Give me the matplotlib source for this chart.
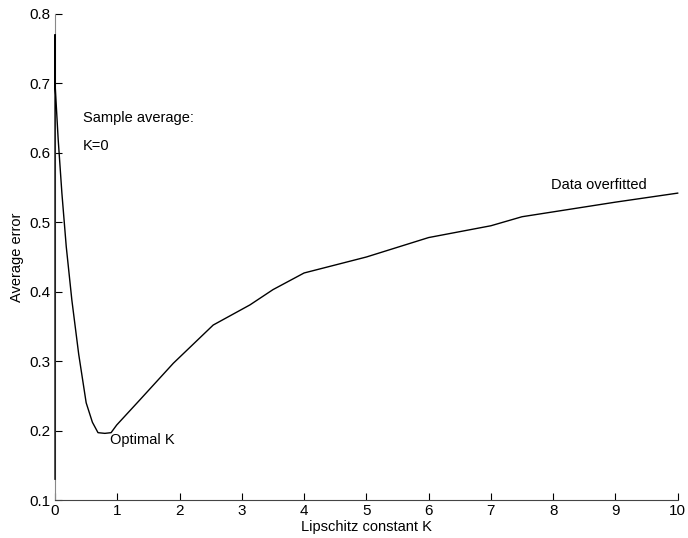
import numpy as np
import matplotlib
matplotlib.use('Agg')
import matplotlib.pyplot as plt

plt.rcParams['font.family'] = ['Liberation Sans', 'DejaVu Sans']

# curve (first two points: the vertical stroke at K=0)
K = [0, 0, 0, 0.05, 0.11, 0.18, 0.27, 0.38, 0.50, 0.60, 0.69, 0.80, 0.90, 0.99,
     1.36, 1.90, 2.54, 3.13, 3.5, 4.0, 5.0, 6.0, 7.0, 7.5, 8.0, 9.0, 10.0]
err = [0.13, 0.77, 0.70, 0.62, 0.542, 0.465, 0.388, 0.31, 0.240, 0.212, 0.197, 0.196, 0.197, 0.208,
       0.244, 0.297, 0.352, 0.381, 0.403, 0.427, 0.45, 0.478, 0.495, 0.508, 0.515, 0.529, 0.542]

xticks = np.arange(0, 11, 1)
yticks = [0.1, 0.2, 0.3, 0.4, 0.5, 0.6, 0.7, 0.8]

fig = plt.figure(figsize=(6.88, 5.38), dpi=100)
ax = fig.add_axes([0.080, 0.0706, 0.905, 0.9034])
ax.plot(K, err, color='black', lw=1.0, zorder=3, clip_on=False)

ax.set_xlim(0, 10)
ax.set_ylim(0.1, 0.8)
ax.set_xticks(xticks)
ax.set_yticks(yticks)
ax.set_xticklabels([str(v) for v in xticks])
ax.set_yticklabels([f'{v:.1f}' for v in yticks])
ax.tick_params(direction='in', length=5, width=0.8, labelsize=11, colors='black', pad=3)

for s in ['top', 'right']:
    ax.spines[s].set_visible(False)
ax.spines['left'].set_color('#888888')
ax.spines['bottom'].set_color('#444444')

ax.set_xlabel('Lipschitz constant K', fontsize=10.5, labelpad=1)
ax.set_ylabel('Average error', fontsize=10.5, labelpad=4)

ax.text(0.45, 0.65, 'Sample average:', fontsize=10.5, va='center')
ax.text(0.45, 0.61, 'K=0', fontsize=10.5, va='center')
ax.text(0.88, 0.186, 'Optimal K', fontsize=10.5, va='center')
ax.text(7.97, 0.553, 'Data overfitted', fontsize=10.5, va='center')

fig.savefig('out.png', dpi=100)
